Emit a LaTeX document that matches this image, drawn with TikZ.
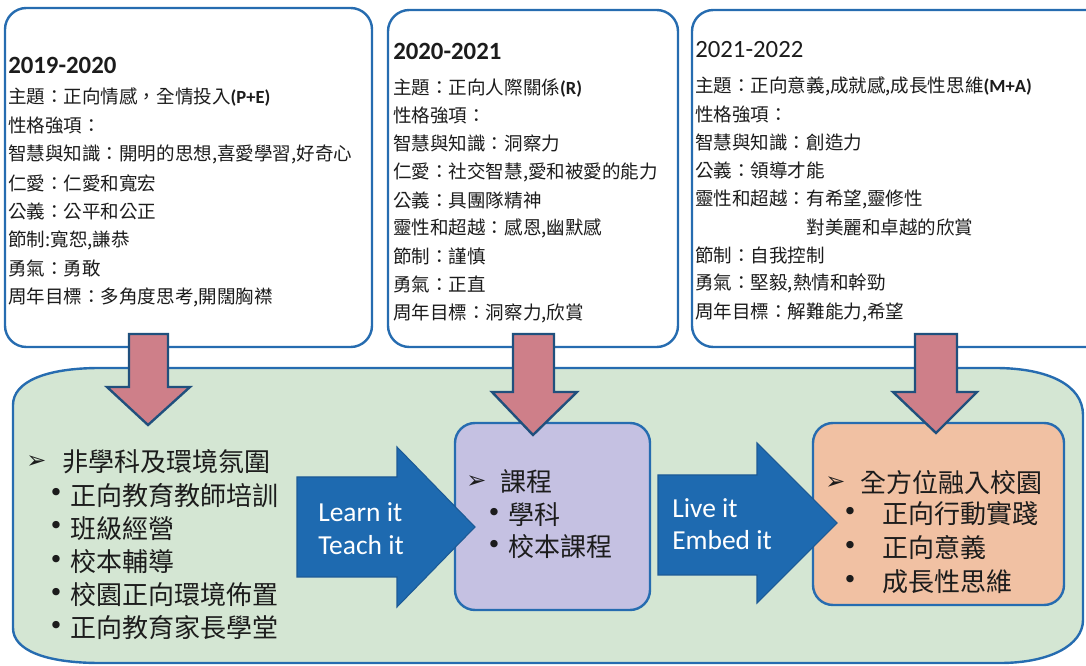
\documentclass[tikz,border=0pt]{standalone}
\usepackage{fontspec}
\setmainfont{Carlito}
\newfontfamily\cjk{Noto Sans CJK TC}
\newfontfamily\dv{DejaVu Sans}
\definecolor{bordblue}{RGB}{38,108,176}
\definecolor{greenfill}{RGB}{212,230,211}
\definecolor{purplefill}{RGB}{197,193,226}
\definecolor{orangefill}{RGB}{241,193,163}
\definecolor{pinkfill}{RGB}{206,127,137}
\definecolor{pinkedge}{RGB}{32,80,125}
\definecolor{arrowblue}{RGB}{30,106,176}
\definecolor{arrowedge}{RGB}{28,90,150}
\definecolor{textdark}{RGB}{28,28,28}
\tikzset{
  yearbox/.style={draw=bordblue, line width=1.8pt, fill=white, rounded corners=16pt},
  greenbox/.style={draw=bordblue, line width=1.8pt, fill=greenfill},
  purplebox/.style={draw=bordblue, line width=1.8pt, fill=purplefill, rounded corners=15pt},
  orangebox/.style={draw=bordblue, line width=1.8pt, fill=orangefill, rounded corners=15pt},
  pinkarrow/.style={draw=pinkedge, line width=1.8pt, fill=pinkfill, line join=miter},
  bluearrow/.style={draw=arrowedge, line width=0.8pt, fill=arrowblue, line join=miter},
  yeartitle/.style={anchor=west, inner sep=0pt, text=textdark, font=\fontsize{18.6}{20}\selectfont\bfseries},
  yeartitlereg/.style={anchor=west, inner sep=0pt, text=textdark, font=\fontsize{18.6}{20}\selectfont},
  tl/.style={anchor=west, inner sep=0pt, text=textdark, font=\cjk\fontsize{13.9}{16}\selectfont},
  bl/.style={anchor=west, inner sep=0pt, text=textdark, font=\cjk\fontsize{19.5}{22}\selectfont},
  arrmark/.style={anchor=west, inner sep=0pt, text=textdark, font=\dv\fontsize{18}{20}\selectfont},
  bulletdot/.style={anchor=center, inner sep=0pt, text=textdark, font=\dv\fontsize{19}{20}\selectfont},
  wl/.style={anchor=west, inner sep=0pt, text=white, font=\fontsize{20.6}{22}\selectfont},
}
\begin{document}
\begin{tikzpicture}[x=0.75pt, y=-0.75pt]
\useasboundingbox (0,0) rectangle (1086,666);
\clip (0,0) rectangle (1086,666);

% year boxes
\path[yearbox] (5,8) rectangle (372,347);
\path[yearbox] (388,10) rectangle (678,347);
\path[yearbox] (692,10) rectangle (1110,347);

% big green box
\path[greenbox] (100,368) -- (995,368)
  .. controls (1048,368) and (1083,385) .. (1083,415)
  -- (1083,620)
  .. controls (1083,645) and (1050,663) .. (1000,663)
  -- (100,663)
  .. controls (45,663) and (13,650) .. (13,628)
  -- (13,405)
  .. controls (13,382) and (45,368) .. (100,368) -- cycle;

% inner boxes
\path[purplebox] (455,423) rectangle (650,610);
\path[orangebox] (813,423) rectangle (1064,605);

% blue arrows
\path[bluearrow] (297,477) -- (397,477) -- (397,447) -- (475,527) -- (397,607) -- (397,577) -- (297,577) -- cycle;
\path[bluearrow] (658,475) -- (757,475) -- (757,443) -- (837,523) -- (757,603) -- (757,575) -- (658,575) -- cycle;

% pink arrows
\path[pinkarrow] (129,334) -- (168,334) -- (168,387) -- (190,387) -- (148,425) -- (107,387) -- (129,387) -- cycle;
\path[pinkarrow] (513,334) -- (554,334) -- (554,392) -- (577,392) -- (533,435) -- (492,392) -- (513,392) -- cycle;
\path[pinkarrow] (915,334) -- (957,334) -- (957,392) -- (977,392) -- (936,433) -- (893,392) -- (915,392) -- cycle;

% titles
\node[yeartitle] (y1) at (8,65) {2019-2020};
\node[yeartitle] (y2) at (393,51) {2020-2021};
\node[yeartitlereg] (y3) at (695,50) {2021-2022};

% box 1 lines
\foreach \t [count=\i] in {
  {主題：正向情感，全情投入{\rmfamily\bfseries (P+E)}},
  {性格強項：},
  {智慧與知識：開明的思想,喜愛學習,好奇心},
  {仁愛：仁愛和寬宏},
  {公義：公平和公正},
  {節制:寬恕,謙恭},
  {勇氣：勇敢},
  {周年目標：多角度思考,開闊胸襟}}
  \node[tl] (a\i) at (8,{97.5+28.5*(\i-1)}) {\t};

% box 2 lines
\foreach \t [count=\i] in {
  {主題：正向人際關係{\rmfamily\bfseries (R)}},
  {性格強項：},
  {智慧與知識：洞察力},
  {仁愛：社交智慧,愛和被愛的能力},
  {公義：具團隊精神},
  {靈性和超越：感恩,幽默感},
  {節制：謹慎},
  {勇氣：正直},
  {周年目標：洞察力,欣賞}}
  \node[tl] (b\i) at (393,{87.5+28.2*(\i-1)}) {\t};

% box 3 lines
\foreach \t [count=\i] in {
  {主題：正向意義,成就感,成長性思維{\rmfamily\bfseries (M+A)}},
  {性格強項：},
  {智慧與知識：創造力},
  {公義：領導才能},
  {靈性和超越：有希望,靈修性},
  {\phantom{靈性和超越：}對美麗和卓越的欣賞},
  {節制：自我控制},
  {勇氣：堅毅,熱情和幹勁},
  {周年目標：解難能力,希望}}
  \node[tl] (c\i) at (695,{86+28.25*(\i-1)}) {\t};

% green box list
\node[arrmark] (gm) at (26,462) {➢};
\node[bl] (g0) at (62,462) {非學科及環境氛圍};
\foreach \t [count=\i] in {正向教育教師培訓, 班級經營, 校本輔導, 校園正向環境佈置, 正向教育家長學堂} {
  \node[bulletdot] (gd\i) at (56,{462+33.2*\i}) {•};
  \node[bl] (g\i) at (70,{462+33.2*\i}) {\t};
}

% purple box list
\node[arrmark] (pm) at (466,482) {➢};
\node[bl] (p0) at (500,482) {課程};
\node[bulletdot] (pd1) at (494,515) {•};
\node[bl] (p1) at (508,515) {學科};
\node[bulletdot] (pd2) at (494,547) {•};
\node[bl] (p2) at (508,547) {校本課程};

% orange box list
\node[arrmark] (om) at (825,483) {➢};
\node[bl] (o0) at (860,483) {全方位融入校園};
\node[bulletdot] (od1) at (850,514) {•};
\node[bl] (o1) at (882,514) {正向行動實踐};
\node[bulletdot] (od2) at (850,548) {•};
\node[bl] (o2) at (882,548) {正向意義};
\node[bulletdot] (od3) at (850,582) {•};
\node[bl] (o3) at (882,582) {成長性思維};

% arrow texts
\node[wl] (l1) at (318,512) {Learn it};
\node[wl] (l2) at (318,545) {Teach it};
\node[wl] (l3) at (672,508) {Live it};
\node[wl] (l4) at (672,540) {Embed it};
\end{tikzpicture}
\end{document}
